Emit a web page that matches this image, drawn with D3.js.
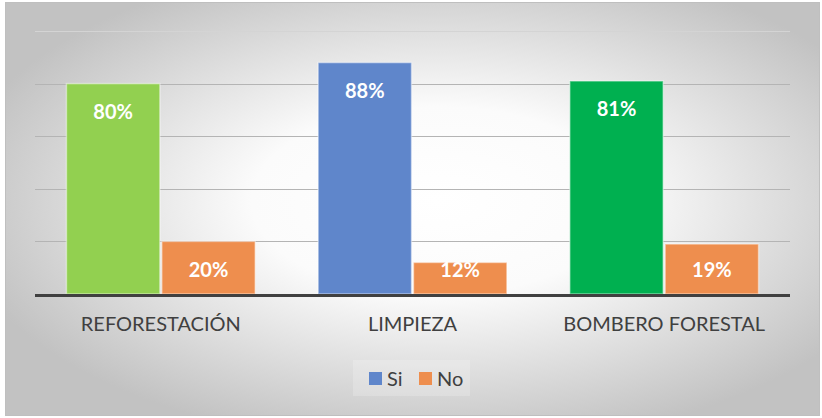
<!DOCTYPE html>
<html>
<head>
<meta charset="utf-8">
<script src="https://cdn.jsdelivr.net/npm/d3@7"></script>
<style>
  body { margin: 0; background: #fff; }
  svg { display: block; font-family: Lato, "Open Sans", sans-serif; }
</style>
</head>
<body>
<svg id="chart" width="822" height="418"></svg>
<script>
const categories = ["REFORESTACIÓN", "LIMPIEZA", "BOMBERO FORESTAL"]
const seriesNames = ["Si", "No"]
const siValues = [80, 88, 81]
const noValues = [20, 12, 19]
const yTicks = [0, 20, 40, 60, 80, 100]

const siColors = ["#92D050", "#5F86CB", "#00B050"]
const noColor = "#EE8E4E"
const legendColors = ["#5F86CB", noColor]

const plot = {left: 35, right: 790, top: 31, bottom: 294}

const svg = d3.select("#chart")

const defs = svg.append("defs")
const grad = defs.append("radialGradient")
  .attr("id", "bg")
  .attr("cx", "53%").attr("cy", "48%").attr("r", "60%")
grad.append("stop").attr("offset", "0%").attr("stop-color", "#ffffff")
grad.append("stop").attr("offset", "38%").attr("stop-color", "#fbfbfb")
grad.append("stop").attr("offset", "100%").attr("stop-color", "#c2c2c2")

svg.append("rect")
  .attr("x", 5.5).attr("y", 2.5)
  .attr("width", 814).attr("height", 413)
  .attr("fill", "url(#bg)")
  .attr("stroke", "#bfbfbf")

const x0 = d3.scaleBand()
  .domain(categories)
  .range([plot.left, plot.right])
  .paddingInner(0.246)
  .paddingOuter(0.123)

const x1 = d3.scaleBand()
  .domain(seriesNames)
  .range([0, x0.bandwidth()])
  .paddingInner(0.01)

const y = d3.scaleLinear()
  .domain([0, 100])
  .range([plot.bottom, plot.top])

// gridlines
svg.append("g")
  .selectAll("line")
  .data(yTicks.filter(t => t > 0))
  .join("line")
  .attr("x1", plot.left).attr("x2", plot.right)
  .attr("y1", d => Math.round(y(d)) + 0.5)
  .attr("y2", d => Math.round(y(d)) + 0.5)
  .attr("stroke", d => d === 100 ? "#d4d4d4" : "#b4b4b4")
  .attr("stroke-width", 1.2)

const rows = categories.map((c, i) => [
  {cat: c, s: "Si", v: siValues[i], color: siColors[i]},
  {cat: c, s: "No", v: noValues[i], color: noColor}
]).flat()

const bars = svg.append("g")
  .selectAll("g")
  .data(rows)
  .join("g")
  .attr("transform", d => `translate(${x0(d.cat) + x1(d.s)},0)`)

bars.append("rect")
  .attr("x", 0.5)
  .attr("y", d => y(d.v))
  .attr("width", x1.bandwidth() - 1)
  .attr("height", d => y(0) - y(d.v))
  .attr("fill", d => d.color)
  .attr("stroke", "rgba(255,255,255,0.45)")
  .attr("stroke-width", 1.5)

bars.append("text")
  .attr("x", x1.bandwidth() / 2)
  .attr("y", d => Math.min(y(d.v) + 28, y(0) - 24))
  .attr("dy", "0.36em")
  .attr("text-anchor", "middle")
  .attr("fill", "#fff")
  .attr("font-weight", "bold")
  .attr("font-size", 20)
  .text(d => d.v + "%")

// axis
const xAxis = svg.append("g")
  .attr("transform", `translate(0,${plot.bottom})`)
  .call(d3.axisBottom(x0).tickSize(0).tickPadding(23))
xAxis.select(".domain")
  .attr("d", `M${plot.left},1.5H${plot.right}`)
  .attr("stroke", "#404040")
  .attr("stroke-width", 3)
xAxis.selectAll("text")
  .attr("fill", "#404040")
  .attr("font-size", 20)
  .attr("font-family", "Lato, 'Open Sans', sans-serif")

// legend
svg.append("rect")
  .attr("x", 353).attr("y", 360)
  .attr("width", 117).attr("height", 36)
  .attr("fill", "#ffffff").attr("opacity", 0.2)

const legend = svg.append("g").attr("transform", "translate(369,372)")
const items = legend.selectAll("g")
  .data(seriesNames)
  .join("g")
  .attr("transform", (d, i) => `translate(${i * 50},0)`)
items.append("rect")
  .attr("width", 13).attr("height", 13)
  .attr("fill", (d, i) => legendColors[i])
items.append("text")
  .attr("x", 18).attr("y", 7)
  .attr("dy", "0.36em")
  .attr("fill", "#404040")
  .attr("font-size", 20)
  .text(d => d)
</script>
</body>
</html>
